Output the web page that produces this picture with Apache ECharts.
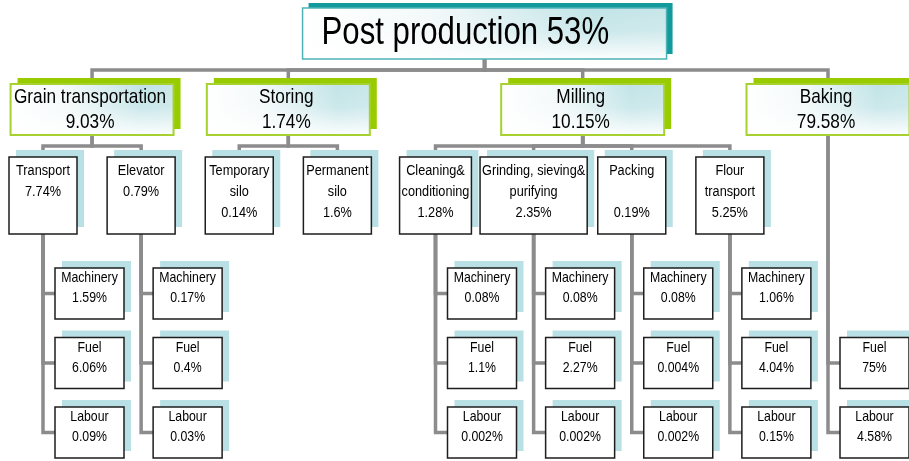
<!DOCTYPE html>
<html lang="en">
<head>
  <meta charset="utf-8"/>
  <title>Post production energy shares</title>
  <script src="https://cdn.jsdelivr.net/npm/echarts@6/dist/echarts.min.js"></script>
  <style>
    html, body { margin: 0; padding: 0; background: #fff; }
    #main { width: 909px; height: 461px; }
  </style>
</head>
<body>
<div id="main"></div>
<script type="text/javascript">
  // ---- values ----
  var rootName = 'Post production';
  var rootShare = '53%';

  var stages = ['Grain transportation', 'Storing', 'Milling', 'Baking'];
  var stageShares = ['9.03%', '1.74%', '10.15%', '79.58%'];

  // second level, with the stage each one belongs to
  var processes = ['Transport', 'Elevator', 'Temporary\nsilo', 'Permanent\nsilo',
                   'Cleaning&\nconditioning', 'Grinding, sieving&\npurifying', 'Packing\n', 'Flour\ntransport'];
  var processStage = [0, 0, 1, 1, 2, 2, 2, 2];
  var processShares = ['7.74%', '0.79%', '0.14%', '1.6%', '1.28%', '2.35%', '0.19%', '5.25%'];

  // third level: one column per branch (the 8 processes, then Baking which has no process level)
  var inputs = ['Machinery', 'Fuel', 'Labour'];
  var machineryShares = ['1.59%', '0.17%', '', '', '0.08%', '0.08%', '0.08%', '1.06%', ''];
  var fuelShares      = ['6.06%', '0.4%', '', '', '1.1%', '2.27%', '0.004%', '4.04%', '75%'];
  var labourShares    = ['0.09%', '0.03%', '', '', '0.002%', '0.002%', '0.002%', '0.15%', '4.58%'];
  var inputShares = [machineryShares, fuelShares, labourShares];

  // ---- layout (vertical units are the y axis, horizontal units are branch slots) ----
  var FONT = '"Liberation Sans", Arial, sans-serif';
  var NARROW = 0.82; // text is drawn horizontally squeezed, like the original
  var ROOT_TOP = 8, ROOT_H = 51, ROOT_W = 364, BAR1 = 70;
  var STAGE_TOP = 84, STAGE_H = 51, STAGE_W = 163, BAR2 = 146;
  var PROC_TOP = 157, PROC_H = 77;
  var LEAF_TOP = 268, LEAF_H = 51, LEAF_W = 69, LEAF_STEP = 69.5, LEAF_GAP = 12;
  var LINE = '#8c8c8c';

  var measureCtx = document.createElement('canvas').getContext('2d');
  function textWidth(str, font) {
    measureCtx.font = font;
    return NARROW * Math.max.apply(null, str.split('\n').map(function (s) { return measureCtx.measureText(s).width; }));
  }

  var nodes = [];
  var links = [];
  var slot = 0;
  var stageX = [];

  stages.forEach(function (name, s) {
    var kids = [];
    processes.forEach(function (p, i) { if (processStage[i] === s) kids.push(i); });
    if (kids.length) {
      var first = slot;
      slot += kids.length;
      stageX[s] = (first + slot - 1) / 2;
    } else {
      stageX[s] = slot++;
    }
  });
  var rootX = slot / 2;

  nodes.push({ kind: 'root', x: rootX, top: ROOT_TOP, w: ROOT_W, h: ROOT_H, text: rootName + ' ' + rootShare });

  slot = 0;
  var procBranches = [], soloBranches = [];
  stages.forEach(function (name, s) {
    nodes.push({ kind: 'stage', x: stageX[s], top: STAGE_TOP, w: STAGE_W, h: STAGE_H, text: name + '\n' + stageShares[s] });
    links.push([rootX, ROOT_TOP + ROOT_H, stageX[s], STAGE_TOP, BAR1, 0]);
    var has = false;
    processes.forEach(function (p, i) {
      if (processStage[i] !== s) return;
      has = true;
      var x = slot++;
      var txt = p + '\n' + processShares[i];
      var w = Math.max(68, textWidth(txt, '15.5px ' + FONT) + 4);
      nodes.push({ kind: 'proc', x: x, top: PROC_TOP, w: w, h: PROC_H, text: txt });
      links.push([stageX[s], STAGE_TOP + STAGE_H, x, PROC_TOP, BAR2, 0]);
      procBranches.push({ x: x, bottom: PROC_TOP + PROC_H });
    });
    if (!has) {
      slot++;
      soloBranches.push({ x: stageX[s], bottom: STAGE_TOP + STAGE_H });
    }
  });
  var branches = procBranches.concat(soloBranches);

  branches.forEach(function (b, bi) {
    inputs.forEach(function (inp, r) {
      var v = inputShares[r][bi];
      if (!v) return;
      var top = LEAF_TOP + r * LEAF_STEP;
      nodes.push({ kind: 'leaf', x: b.x, top: top, w: LEAF_W, h: LEAF_H, text: inp + '\n' + v });
      links.push([b.x, b.bottom, b.x, top + LEAF_H / 2, 0, 1]);
    });
  });

  var SKIN = {
    root:  { shadow: '#129a9c', dx: 6, dy: -5, stroke: '#4db2b6', lw: 1.5, font: '38px ' + FONT, lh: 40, pad: 0 },
    stage: { shadow: '#99cc00', dx: 7, dy: -6, stroke: '#a6d12f', lw: 2, font: '21px ' + FONT, lh: 25, pad: 0 },
    proc:  { shadow: '#b9e0e4', dx: 7, dy: -7, stroke: '#1e1e1e', lw: 1.5, font: '15.5px ' + FONT, lh: 21, pad: 3 },
    leaf:  { shadow: '#b9e0e4', dx: 7, dy: -7, stroke: '#1e1e1e', lw: 1.5, font: '15px ' + FONT, lh: 20, pad: 0 }
  };
  var blueAcross = {
    type: 'linear', x: 0, y: 0, x2: 1, y2: 0,
    colorStops: [{ offset: 0, color: '#ffffff' }, { offset: 0.35, color: '#f3f9fa' }, { offset: 0.8, color: '#c2e4e7' }, { offset: 1, color: '#c8e6e9' }]
  };
  var whiteDown = {
    type: 'linear', x: 0, y: 0, x2: 0, y2: 1,
    colorStops: [{ offset: 0, color: 'rgba(255,255,255,0)' }, { offset: 0.45, color: 'rgba(255,255,255,0.15)' }, { offset: 1, color: 'rgba(255,255,255,0.95)' }]
  };

  function renderBox(params, api) {
    var n = nodes[params.dataIndex];
    var sk = SKIN[n.kind];
    var p = api.coord([api.value(0), api.value(1)]);
    var left = n.kind === 'leaf' ? p[0] + LEAF_GAP : p[0] - n.w / 2;
    var top = p[1];
    var tx, ty, align = 'center', va = 'top';
    if (n.kind === 'root') {
      tx = left + 19; ty = top + n.h / 2; align = 'left'; va = 'middle';
    } else if (n.kind === 'stage') {
      tx = left + n.w / 2 - 2; ty = top + n.h / 2; va = 'middle';
    } else {
      tx = left + n.w / 2; ty = top + sk.pad;
    }
    var fancy = n.kind === 'root' || n.kind === 'stage';
    var children = [
      { type: 'rect', shape: { x: left + sk.dx, y: top + sk.dy, width: n.w, height: n.h }, style: { fill: sk.shadow } },
      { type: 'rect', shape: { x: left, y: top, width: n.w, height: n.h }, style: { fill: fancy ? blueAcross : '#ffffff' } }
    ];
    if (fancy) {
      children.push({ type: 'rect', shape: { x: left, y: top, width: n.w, height: n.h }, style: { fill: whiteDown } });
    }
    children.push(
      { type: 'rect', shape: { x: left, y: top, width: n.w, height: n.h }, style: { fill: null, stroke: sk.stroke, lineWidth: sk.lw } },
      {
        type: 'text', x: tx, y: ty, scaleX: NARROW,
        style: { x: 0, y: 0, text: n.text, font: sk.font, lineHeight: sk.lh, fill: '#000', align: align, verticalAlign: va }
      }
    );
    return { type: 'group', children: children };
  }

  function renderLink(params, api) {
    var mode = api.value(5);
    var a = api.coord([api.value(0), api.value(1)]);
    var pts;
    if (mode === 0) {
      var b1 = api.coord([api.value(0), api.value(4)]);
      var b2 = api.coord([api.value(2), api.value(4)]);
      var c = api.coord([api.value(2), api.value(3)]);
      pts = [a, b1, b2, c];
    } else {
      var m = api.coord([api.value(2), api.value(3)]);
      pts = [a, m, [m[0] + LEAF_GAP, m[1]]];
    }
    return { type: 'polyline', shape: { points: pts }, style: { stroke: LINE, lineWidth: 3.5, fill: null } };
  }

  var myChart = echarts.init(document.getElementById('main'));
  var pxPerSlot = 98.125, firstSlotPx = 43;
  var xMin = -firstSlotPx / pxPerSlot;

  myChart.setOption({
    animation: false,
    grid: { left: 0, right: 0, top: 0, bottom: 0 },
    xAxis: { type: 'value', min: xMin, max: xMin + 909 / pxPerSlot, show: false },
    yAxis: { type: 'value', min: 0, max: 461, inverse: true, show: false },
    series: [
      {
        type: 'custom', z: 1, silent: true, clip: false,
        renderItem: renderLink,
        encode: { x: [0, 2], y: [1, 3, 4] },
        data: links
      },
      {
        type: 'custom', z: 2, silent: true, clip: false,
        renderItem: renderBox,
        encode: { x: 0, y: 1 },
        data: nodes.map(function (n) { return [n.x, n.top]; })
      }
    ]
  });
</script>
</body>
</html>
